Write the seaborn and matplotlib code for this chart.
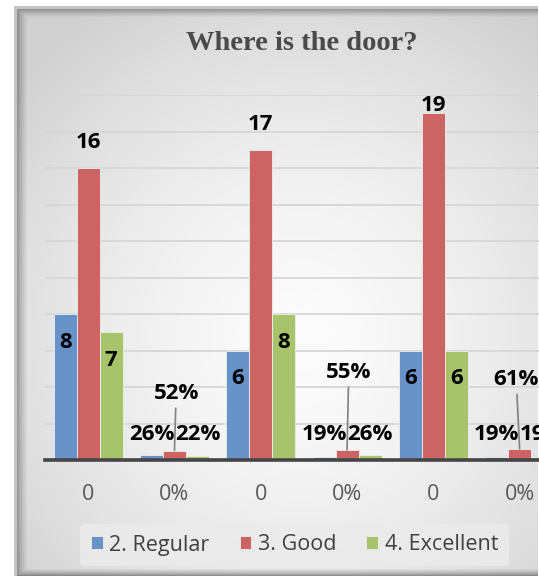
import numpy as np
import pandas as pd
import matplotlib
matplotlib.use("Agg")
import matplotlib.pyplot as plt
import seaborn as sns

# ---- data ----
tick_labels = ["0", "0%", "0", "0%", "0", "0%"]
series_names = ["2. Regular", "3. Good", "4. Excellent"]
regular = [8, 0.26, 6, 0.19, 6, 0.19]
good = [16, 0.52, 17, 0.55, 19, 0.61]
excellent = [7, 0.22, 8, 0.26, 6, 0.19]
is_percent = [False, True, False, True, False, True]

colors = ["#6793C9", "#CB6463", "#A7C46A"]

rows = []
for name, vals in zip(series_names, [regular, good, excellent]):
    for i, v in enumerate(vals):
        rows.append({"group": f"g{i}", "series": name, "value": v})
df = pd.DataFrame(rows)

sns.set_style("white")
plt.rcParams["font.family"] = ["Open Sans", "DejaVu Sans"]

W, H = 539, 578
fig = plt.figure(figsize=(W / 100, H / 100), dpi=100)

# ---- chart-area background: soft radial gradient with inner shadow ----
yy, xx = np.mgrid[0:H, 0:W].astype(float)
cx, cy = 300.0, 340.0
r = np.sqrt((xx - cx) ** 2 + ((yy - cy) / 1.05) ** 2)
t = np.clip(r / 380.0, 0, 1) ** 1.5
shade = 252 - (252 - 208) * t
left, top, right, bottom = 16, 8, 537, 575
# inner shadow along left / top / bottom edges
dl = np.clip((xx - left) / 11.0, 0, 1)
dt = np.clip((yy - top) / 9.0, 0, 1)
db = np.clip((bottom - yy) / 7.0, 0, 1)
edge = np.minimum(np.minimum(dl, dt), db)
shade = shade * (0.62 + 0.38 * edge ** 0.7)
img = np.full((H, W), 255.0)
inside = (xx >= left) & (xx <= right) & (yy >= top) & (yy <= bottom)
img[inside] = shade[inside]
# thin light frame
frame = ((np.abs(xx - (left - 1)) <= 1) & (yy >= top - 2) & (yy <= bottom)) | \
        ((np.abs(yy - (top - 1)) <= 1) & (xx >= left - 2) & (xx <= right))
img[frame] = 196
bg = fig.add_axes([0, 0, 1, 1], zorder=0)
bg.imshow(np.dstack([img, img, img]) / 255.0, extent=(0, W, H, 0), aspect="auto",
          interpolation="bilinear")
bg.set_axis_off()

# ---- plot area ----
step = 86.3
ax_left = 45 / W
ax_w = 6 * step / W
ax_bottom = (H - 460) / H
ax_h = (460 - 95) / H
ax = fig.add_axes([ax_left, ax_bottom, ax_w, ax_h], zorder=1)
ax.patch.set_alpha(0)

sns.barplot(data=df, x="group", y="value", hue="series", palette=colors,
            saturation=1, width=0.8, ax=ax, edgecolor="#eeeeee", linewidth=0.6,
            zorder=3, errorbar=None)

ax.set_xlim(-0.5, 5.5)
ax.set_ylim(0, 20)
ax.set_yticks(np.arange(0, 21, 2))
ax.yaxis.grid(True, color="#d6d6d6", linewidth=1.3, zorder=0)
ax.set_axisbelow(True)
ax.set_yticklabels([])
ax.tick_params(axis="y", length=0)
ax.set_xticks(range(6))
ax.set_xticklabels(tick_labels, fontsize=15.5, color="#595959")
ax.tick_params(axis="x", length=0, pad=17)
ax.set_xlabel("")
ax.set_ylabel("")
for s in ["left", "right", "top"]:
    ax.spines[s].set_visible(False)
ax.spines["bottom"].set_color("#454545")
ax.spines["bottom"].set_linewidth(2.6)
ax.spines["bottom"].set_zorder(4)

# ---- data labels ----
label_kw = dict(fontsize=16, fontweight="bold", color="black", ha="center",
                va="center", zorder=5, clip_on=False)
leader_heights = {1: 3.67, 3: 4.82, 5: 4.43}
series_vals = [regular, good, excellent]
for si, cont in enumerate(ax.containers):
    for gi, bar in enumerate(cont.patches):
        v = series_vals[si][gi]
        x = bar.get_x() + bar.get_width() / 2
        if not is_percent[gi]:
            txt = f"{v:g}"
            if si == 1:
                y = min(v + 1.4, 19.45)
            else:
                y = v - 1.55
            ax.text(x, y, txt, **label_kw)
        else:
            txt = f"{v:.0%}"
            if si == 1:
                ly = leader_heights[gi]
                ax.annotate(txt, xy=(x, v), xytext=(x - (0.04 if gi == 5 else -0.02), ly),
                            arrowprops=dict(arrowstyle="-", color="#808080", lw=1.2,
                                            shrinkA=1, shrinkB=0),
                            **label_kw)
            else:
                ax.text(x, 1.37, txt, **label_kw)

# ---- legend ----
if ax.get_legend() is not None:
    ax.get_legend().remove()
handles, labels = ax.get_legend_handles_labels()
leg = fig.legend(handles, labels, loc="center", bbox_to_anchor=(294.5 / W, 1 - 545 / H),
                 ncol=3, frameon=True, fontsize=15.5, handlelength=0.55, handleheight=0.55,
                 handletextpad=0.3, columnspacing=1.4, borderpad=0.5, borderaxespad=0)
leg.get_frame().set_facecolor("#ebebeb")
leg.get_frame().set_edgecolor("none")
leg.get_frame().set_alpha(0.85)
leg.set_zorder(6)
for t in leg.get_texts():
    t.set_color("#404040")

# ---- title ----
fig.text(302 / W, 1 - 44 / H, "Where is the door?", ha="center", va="center",
         fontsize=20.5, fontweight="bold", color="#4a4a4a",
         family=["Liberation Serif", "DejaVu Serif"], zorder=6)

fig.savefig("out.png", dpi=100)
